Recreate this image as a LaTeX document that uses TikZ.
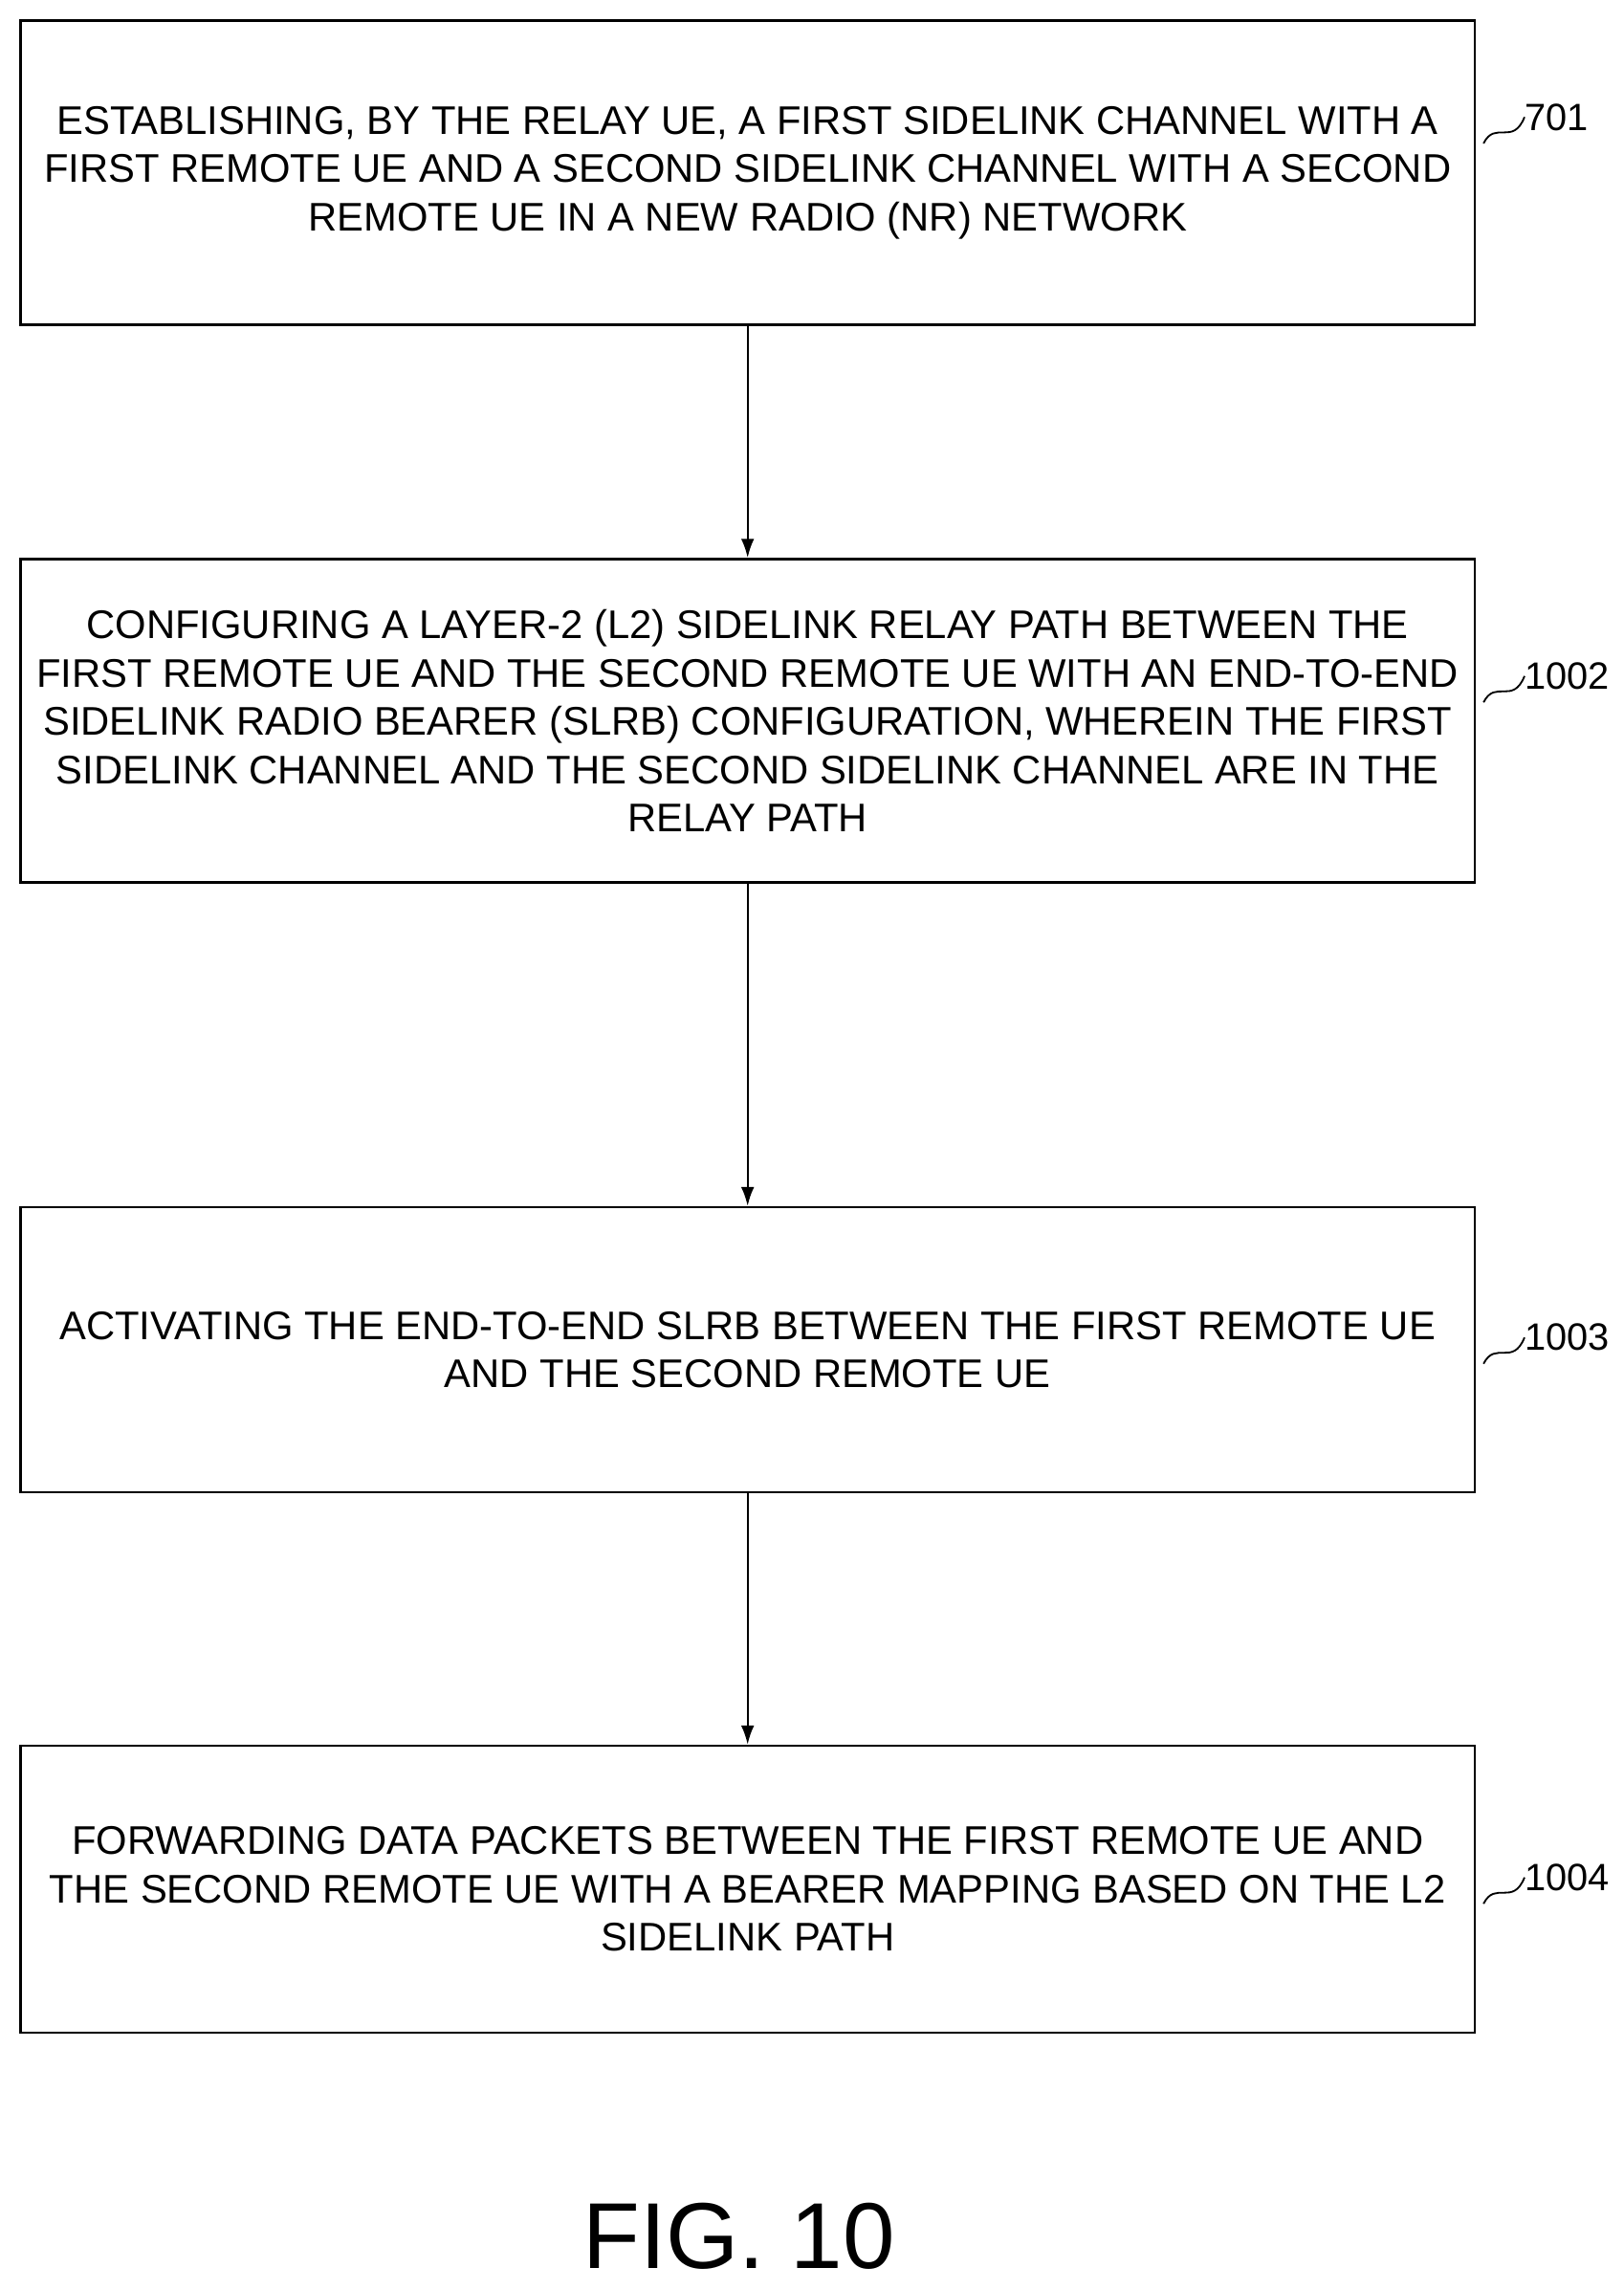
\documentclass[tikz,border=0pt]{standalone}
\usepackage{fontspec}
\setmainfont{Liberation Sans}
\begin{document}
\begin{tikzpicture}[x=1pt,y=-1pt,
 box/.style={draw,line width=1.5pt,minimum width=994pt,align=center,font=\fontsize{27.3}{33}\selectfont,inner sep=0pt},
 arr/.style={-{Latex[length=13pt,width=9pt]},line width=1.5pt},
 lab/.style={font=\fontsize{26}{28}\selectfont,anchor=west,inner sep=0pt}]
\usetikzlibrary{arrows.meta}
\useasboundingbox (0,0) rectangle (1110,1565);
\node[box,minimum height=208pt] (b1) at (511,118) {ESTABLISHING, BY THE RELAY UE, A FIRST SIDELINK CHANNEL WITH A\\FIRST REMOTE UE AND A SECOND SIDELINK CHANNEL WITH A SECOND\\REMOTE UE IN A NEW RADIO (NR) NETWORK};
\node[box,minimum height=221pt] (b2) at (511,492.5) {CONFIGURING A LAYER-2 (L2) SIDELINK RELAY PATH BETWEEN THE\\FIRST REMOTE UE AND THE SECOND REMOTE UE WITH AN END-TO-END\\SIDELINK RADIO BEARER (SLRB) CONFIGURATION, WHEREIN THE FIRST\\SIDELINK CHANNEL AND THE SECOND SIDELINK CHANNEL ARE IN THE\\RELAY PATH};
\node[box,minimum height=195pt] (b3) at (511,922.5) {ACTIVATING THE END-TO-END SLRB BETWEEN THE FIRST REMOTE UE\\AND THE SECOND REMOTE UE};
\node[box,minimum height=196pt] (b4) at (511,1291) {FORWARDING DATA PACKETS BETWEEN THE FIRST REMOTE UE AND\\THE SECOND REMOTE UE WITH A BEARER MAPPING BASED ON THE L2\\SIDELINK PATH};
\draw[arr] (b1) -- (b2);
\draw[arr] (b2) -- (b3);
\draw[arr] (b3) -- (b4);
\foreach \n/\y/\t in {c1/80/701,c2/462/1002,c3/914/1003,c4/1283/1004}{
  \coordinate (\n a) at (1014,\y+18);
  \coordinate (\n b) at (1042,\y);
  \draw[line width=1.2pt] (\n a) .. controls (1022,\y+2) and (1034,\y+20) .. (\n b);
  \node[lab] (\n l) at (\n b) {\t};
}
\node[font=\fontsize{64}{70}\selectfont] (fig) at (505,1528) {FIG. 10};
\end{tikzpicture}
\end{document}
